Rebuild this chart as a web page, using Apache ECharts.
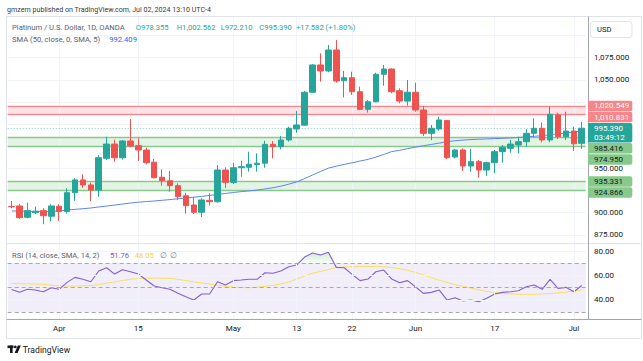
<!DOCTYPE html>
<html><head><meta charset="utf-8">
<script src="https://cdn.jsdelivr.net/npm/echarts@6/dist/echarts.min.js"></script>
<style>html,body{margin:0;padding:0;background:#fff}#c{width:643px;height:361px}</style>
</head><body><div id="c"></div>
<script>
// ---------- DATA ----------
const dates = ['2024-03-21','2024-03-22','2024-03-25','2024-03-26','2024-03-27','2024-03-28',
'2024-04-01','2024-04-02','2024-04-03','2024-04-04','2024-04-05','2024-04-08','2024-04-09','2024-04-10','2024-04-11','2024-04-12','2024-04-15','2024-04-16','2024-04-17','2024-04-18','2024-04-19','2024-04-22','2024-04-23','2024-04-24','2024-04-25','2024-04-26','2024-04-29','2024-04-30',
'2024-05-01','2024-05-02','2024-05-03','2024-05-06','2024-05-07','2024-05-08','2024-05-09','2024-05-10','2024-05-13','2024-05-14','2024-05-15','2024-05-16','2024-05-17','2024-05-20','2024-05-21','2024-05-22','2024-05-23','2024-05-24','2024-05-27','2024-05-28','2024-05-29','2024-05-30','2024-05-31',
'2024-06-03','2024-06-04','2024-06-05','2024-06-06','2024-06-07','2024-06-10','2024-06-11','2024-06-12','2024-06-13','2024-06-14','2024-06-17','2024-06-18','2024-06-19','2024-06-20','2024-06-21','2024-06-24','2024-06-25','2024-06-26','2024-06-27','2024-06-28',
'2024-07-01','2024-07-02'];

const opens = [907.0,907.6,894.8,900.0,902.3,896.0,
907.3,901.3,922.6,937.0,931.3,925.6,961.4,977.5,962.1,981.0,975.7,970.8,957.0,940.0,936.1,930.5,919.2,908.7,900.5,914.0,912.4,948.2,
934.3,950.8,951.3,954.2,955.9,977.2,974.5,982.1,994.5,998.8,1036.0,1066.8,1060.0,1083.7,1049.0,1052.4,1036.6,1016.7,1025.3,1056.3,1062.2,1037.7,1026.0,
1036.0,1016.0,989.6,994.5,1004.0,962.9,970.8,952.7,957.6,948.2,956.5,968.9,972.7,976.4,980.2,989.6,995.3,982.1,1010.3,985.8,
992.2,978.355];

const highs = [913.2,910.0,911.3,906.8,905.0,909.5,
909.5,927.5,939.0,943.4,934.0,965.0,985.8,982.5,982.0,1005.8,984.0,973.4,960.7,949.0,947.0,933.2,922.6,918.0,916.3,922.0,953.9,951.3,
956.4,958.7,968.9,967.0,981.3,981.0,986.6,997.0,1015.0,1037.4,1067.9,1080.0,1089.3,1095.0,1060.0,1059.2,1042.3,1027.2,1058.0,1066.8,1063.0,1040.4,1049.8,
1046.8,1020.5,999.0,1008.4,1004.7,972.0,972.7,972.0,959.5,957.6,970.8,976.4,982.1,985.8,994.2,1006.6,1002.0,1019.7,1012.9,1014.0,
997.0,1002.562];

const lows = [905.0,893.0,893.7,898.5,887.0,890.0,
890.8,899.0,913.5,928.0,913.0,918.0,959.5,957.6,960.0,973.9,958.4,954.6,938.8,930.5,923.7,914.4,899.0,898.5,895.0,908.0,911.3,928.0,
932.4,940.6,946.3,946.3,950.8,961.4,971.6,980.2,990.3,998.5,1035.5,1048.0,1058.5,1046.8,1030.3,1033.0,1016.0,1013.0,1024.6,1043.4,1034.8,1023.5,1020.8,
1014.0,986.6,982.0,992.6,960.7,961.4,947.0,946.3,939.5,941.5,944.6,956.5,967.8,967.0,974.5,985.0,979.5,979.5,983.2,982.1,
969.7,972.21];

const closes = [906.6,894.4,902.3,901.6,896.6,907.6,
901.3,922.6,937.0,931.3,925.6,962.1,977.5,962.1,981.0,975.3,970.8,956.5,939.5,936.1,930.5,918.1,907.9,900.5,914.4,912.4,948.2,934.3,
950.8,952.0,954.7,955.9,977.2,974.5,982.1,995.3,999.0,1036.0,1066.8,1060.0,1083.7,1048.7,1052.4,1036.6,1016.7,1025.3,1056.3,1062.2,1036.6,1026.0,1036.0,
1016.0,989.6,995.3,1004.7,962.1,970.8,952.7,957.6,948.2,956.5,968.9,973.9,977.5,980.2,989.6,995.3,982.1,1011.0,985.8,992.2,
977.808,995.39];

const sma50 = [902.0,901.8,901.6,901.5,901.5,901.6,
902.0,903.0,903.8,904.5,905.3,906.5,907.5,908.6,909.8,910.9,911.8,912.6,913.2,914.0,914.8,915.7,916.5,917.5,918.4,919.5,920.6,921.8,
922.8,923.8,924.6,925.6,926.8,928.2,930.0,932.2,934.8,938.5,942.5,946.5,950.3,952.5,954.5,956.3,958.3,960.2,962.8,965.8,969.0,970.5,972.3,
974.0,975.6,977.0,978.6,980.2,981.2,982.0,982.6,983.0,983.3,983.6,984.0,984.4,985.0,985.6,986.3,987.0,988.0,989.0,990.0,
991.0,992.409];

const rsi14 = [48.5,46.1,48.6,48.0,46.6,49.9,
48.6,54.3,58.4,56.8,54.8,63.6,66.3,61.1,64.7,63.0,61.1,56.2,51.3,49.9,48.6,45.3,42.5,39.8,44.8,44.8,54.8,52.1,
55.7,56.2,56.8,56.8,62.2,61.7,63.6,67.1,68.5,75.0,78.4,76.7,78.9,66.6,66.3,60.9,55.7,57.0,63.0,64.4,57.0,54.0,55.7,
50.7,45.3,46.1,48.0,39.8,41.7,39.0,39.8,38.4,41.2,44.8,46.1,46.6,47.4,50.7,52.1,48.6,56.8,49.4,50.2,
46.6,51.76];

const rsiSma = [53.4,53.2,53.0,52.9,52.7,52.0,
51.3,51.3,51.3,51.4,51.6,52.5,53.6,54.6,55.8,56.8,57.5,57.7,57.8,57.7,57.5,56.8,55.8,54.8,53.8,52.9,52.0,51.1,
50.4,50.1,49.9,50.3,51.0,51.8,53.0,54.5,57.0,59.5,61.8,63.2,64.8,66.5,66.9,67.1,67.2,67.2,67.2,67.1,66.5,65.5,64.2,
62.5,60.5,58.2,56.0,54.2,52.5,51.0,49.6,48.2,46.8,46.0,45.3,44.8,44.5,44.5,44.5,44.8,45.2,45.7,46.3,
47.2,48.05];

const priceGridLevels = [875, 900, 925, 950, 975, 1000, 1025, 1050, 1075, 1100];
const priceTickLabels = [875, 900, 950, 1050, 1075];
const rsiTickLabels = [40, 60, 80];
const rsiGridLevels = [40, 60, 80];
const rsiBandLevels = [30, 50, 70];
const xLabelDates = ['2024-04-01','2024-04-15','2024-05-01','2024-05-13','2024-05-22','2024-06-03','2024-06-17','2024-07-01'];
const xLabelTexts = ['Apr','15','May','13','22','Jun','17','Jul'];

const redZone = [1010.831, 1020.549];
const greenZoneA = [974.950, 985.416];
const greenZoneB = [924.866, 935.331];
const countdown = '03:49:12';

// ---------- CHART ----------
const FONT = 'Roboto';
const UP = '#26a69a', DOWN = '#ef5350';
const PRICE_MIN = 865.79, PRICE_MAX = 1120.95;
const RSI_MIN = 24.26, RSI_MAX = 85.74;
const fmtPrice = v => Number(v).toLocaleString('en-US', {minimumFractionDigits: 3, maximumFractionDigits: 3});

const chart = echarts.init(document.getElementById('c'), null, {renderer: 'svg', width: 643, height: 361});

const gridLineStyle = {color: '#f0f3fa', width: 1, type: 'solid'};
const vLines = xLabelDates.map(d => ({xAxis: d, lineStyle: gridLineStyle}));
const hLines = priceGridLevels.map(v => ({yAxis: v, lineStyle: gridLineStyle}));
const zoneLine = (v, c) => ({yAxis: v, lineStyle: {color: c, width: 1.3, type: 'solid'}});
const lastClose = closes[closes.length - 1];

const option = {
  animation: false,
  backgroundColor: '#ffffff',
  textStyle: {fontFamily: FONT},
  grid: [
    {left: 7.7, right: 57.3, top: 17, height: 226},
    {left: 7.7, right: 57.3, top: 244, height: 75}
  ],
  xAxis: [
    {type: 'category', data: dates, gridIndex: 0, boundaryGap: true,
     axisLine: {show: false}, axisTick: {show: false}, axisLabel: {show: false}, splitLine: {show: false}},
    {type: 'category', data: dates, gridIndex: 1, boundaryGap: true,
     axisLine: {show: false}, axisTick: {show: false}, splitLine: {show: false},
     axisLabel: {show: true, margin: 5, fontSize: 8, color: '#131722', fontFamily: FONT,
       interval: (i, v) => xLabelDates.indexOf(v) >= 0,
       formatter: v => { const k = xLabelDates.indexOf(v); return k >= 0 ? xLabelTexts[k] : ''; }}}
  ],
  yAxis: [
    {type: 'value', gridIndex: 0, position: 'right', min: PRICE_MIN, max: PRICE_MAX, offset: 2.3,
     axisLine: {show: false}, axisTick: {show: false}, splitLine: {show: false},
     axisLabel: {customValues: priceTickLabels, formatter: fmtPrice, fontSize: 8, color: '#131722', margin: 6, fontFamily: FONT}},
    {type: 'value', gridIndex: 1, position: 'right', min: RSI_MIN, max: RSI_MAX, offset: 2.3,
     axisLine: {show: false}, axisTick: {show: false}, splitLine: {show: false},
     axisLabel: {customValues: rsiTickLabels, formatter: v => Number(v).toFixed(2), fontSize: 8, color: '#131722', margin: 6, fontFamily: FONT}}
  ],
  series: [
    { // price-pane background: grid lines, zones, price line
      type: 'line', xAxisIndex: 0, yAxisIndex: 0, data: dates.map(() => null), z: 0, silent: true, symbol: 'none',
      markArea: {silent: true, z: 0, data: [
        [{yAxis: redZone[0], itemStyle: {color: 'rgba(242,54,69,0.14)'}}, {yAxis: redZone[1]}],
        [{yAxis: greenZoneA[0], itemStyle: {color: 'rgba(76,175,80,0.15)'}}, {yAxis: greenZoneA[1]}],
        [{yAxis: greenZoneB[0], itemStyle: {color: 'rgba(76,175,80,0.15)'}}, {yAxis: greenZoneB[1]}]
      ]},
      markLine: {silent: true, symbol: 'none', label: {show: false}, z: 1, data: [
        ...hLines, ...vLines,
        zoneLine(redZone[0], '#f28b90'), zoneLine(redZone[1], '#f28b90'),
        zoneLine(greenZoneA[0], '#86c98a'), zoneLine(greenZoneA[1], '#86c98a'),
        zoneLine(greenZoneB[0], '#86c98a'), zoneLine(greenZoneB[1], '#86c98a'),
        {yAxis: lastClose, lineStyle: {color: 'rgba(38,166,154,0.55)', width: 1, type: [1, 2]}}
      ]}
    },
    {
      name: 'SMA', type: 'line', xAxisIndex: 0, yAxisIndex: 0, data: sma50, z: 2,
      symbol: 'none', lineStyle: {color: '#5b86f5', width: 1}, silent: true
    },
    {
      name: 'Platinum', type: 'candlestick', xAxisIndex: 0, yAxisIndex: 0, z: 3, barWidth: '76%',
      data: dates.map((d, i) => [opens[i], closes[i], lows[i], highs[i]]),
      itemStyle: {color: UP, color0: DOWN, borderColor: UP, borderColor0: DOWN, borderWidth: 1}
    },
    { // RSI background
      type: 'line', xAxisIndex: 1, yAxisIndex: 1, data: dates.map(() => null), z: 0, silent: true, symbol: 'none',
      markArea: {silent: true, data: [[{yAxis: rsiBandLevels[0], itemStyle: {color: 'rgba(126,87,194,0.10)'}}, {yAxis: rsiBandLevels[2]}]]},
      markLine: {silent: true, symbol: 'none', label: {show: false}, data: [
        ...rsiGridLevels.map(v => ({yAxis: v, lineStyle: gridLineStyle})),
        ...xLabelDates.map(d => ({xAxis: d, lineStyle: gridLineStyle})),
        ...rsiBandLevels.map(v => ({yAxis: v, lineStyle: {color: '#a5a8b0', width: 1, type: [4, 3]}}))
      ]}
    },
    { // overbought fill base
      type: 'line', xAxisIndex: 1, yAxisIndex: 1, stack: 'ob', z: 1, silent: true, symbol: 'none',
      data: rsi14.map(() => rsiBandLevels[2]), lineStyle: {opacity: 0}
    },
    {
      type: 'line', xAxisIndex: 1, yAxisIndex: 1, stack: 'ob', z: 1, silent: true, symbol: 'none',
      data: rsi14.map(v => Math.max(v, rsiBandLevels[2]) - rsiBandLevels[2]), lineStyle: {opacity: 0},
      areaStyle: {color: new echarts.graphic.LinearGradient(0, 0, 0, 1, [
        {offset: 0, color: 'rgba(76,175,80,0.35)'}, {offset: 1, color: 'rgba(76,175,80,0.05)'}])}
    },
    {
      name: 'RSI SMA', type: 'line', xAxisIndex: 1, yAxisIndex: 1, data: rsiSma, z: 2, symbol: 'none',
      lineStyle: {color: '#f6e05e', width: 1}, silent: true
    },
    {
      name: 'RSI', type: 'line', xAxisIndex: 1, yAxisIndex: 1, data: rsi14, z: 3, symbol: 'none',
      lineStyle: {color: '#8460cc', width: 1.1}, silent: true
    }
  ]
};
chart.setOption(option);

// ---------- OVERLAY TEXT / LABELS ----------
const g = [];
const ln = (x1, y1, x2, y2, c) => ({type: 'line', silent: true, z: 40, shape: {x1, y1, x2, y2}, style: {stroke: c, lineWidth: 1}});
const tx = (t, x, y, fill, size, extra) => Object.assign({type: 'text', silent: true, z: 60, x, y,
  style: Object.assign({text: t, fill, fontSize: size || 8, fontFamily: FONT, verticalAlign: 'middle', align: 'left'}, extra || {})});

// frame and pane separators
g.push(ln(6.5, 16.5, 641.5, 16.5, '#e0e3eb'));
g.push(ln(6.5, 16.5, 6.5, 338.5, '#e0e3eb'));
g.push(ln(6.5, 338.5, 641.5, 338.5, '#e0e3eb'));
g.push(ln(641.5, 16.5, 641.5, 338.5, '#e0e3eb'));
g.push(ln(6.5, 243.5, 641.5, 243.5, '#e0e3eb'));
g.push(ln(588.5, 16.5, 588.5, 319.5, '#a3a6af'));
g.push(ln(6.5, 319.5, 641.5, 319.5, '#a3a6af'));

// header
const last = closes.length - 1;
const chg = closes[last] - closes[last - 1];
const chgPct = chg / closes[last - 1] * 100;
g.push(tx('gmzern published on TradingView.com, Jul 02, 2024 13:10 UTC-4', 7, 9.5, '#3a3a3a', 7.1));
g.push(tx('Platinum / U.S. Dollar, 1D, OANDA', 12, 27, '#5d606b', 7.6));
const hc = closes[last] >= opens[last] ? '#22ab94' : DOWN;
g.push(tx('O' + fmtPrice(opens[last]), 135.7, 27, hc, 7.6));
g.push(tx('H' + fmtPrice(highs[last]), 176.7, 27, hc, 7.6));
g.push(tx('L' + fmtPrice(lows[last]), 220.7, 27, hc, 7.6));
g.push(tx('C' + fmtPrice(closes[last]), 259.3, 27, hc, 7.6));
g.push(tx((chg >= 0 ? '+' : '') + chg.toFixed(3) + ' (' + (chg >= 0 ? '+' : '') + chgPct.toFixed(2) + '%)', 296, 27, hc, 7.6));
g.push(tx('SMA (50, close, 0, SMA, 5)', 12, 39, '#5d606b', 7.6));
g.push(tx(sma50[last].toFixed(3), 109.3, 39, '#2962ff', 7.6));

// RSI header
g.push(tx('RSI (14, close, SMA, 14, 2)', 12, 255, '#5d606b', 7.6));
g.push(tx(rsi14[last].toFixed(2), 110, 255, '#7e57c2', 7.6));
g.push(tx(rsiSma[last].toFixed(2), 134.7, 255, '#f2d33d', 7.6));
g.push(tx('\u2205', 159.5, 255, '#787b86', 7.6));
g.push(tx('\u2205', 169.5, 255, '#787b86', 7.6));

// USD box
g.push({type: 'rect', silent: true, z: 55, shape: {x: 590.5, y: 21.5, width: 41.5, height: 16, r: 3}, style: {fill: '#fff', stroke: '#e0e3eb', lineWidth: 1}});
g.push(tx('USD', 597, 29.5, '#131722', 7.6));

// axis price labels for zones and last price (stacked to avoid overlap)
const yPx = v => chart.convertToPixel({gridIndex: 0}, [0, v])[1];
const boxH = 10.5, gap = 0.6;
const curTop = yPx(lastClose) - 5.2;
const boxes = [
  {v: redZone[1], bg: '#f7868a', fg: '#ffffff'},
  {v: redZone[0], bg: '#f7868a', fg: '#ffffff'},
  {v: greenZoneA[1], bg: '#86c98a', fg: '#131722'},
  {v: greenZoneA[0], bg: '#86c98a', fg: '#131722'},
  {v: greenZoneB[1], bg: '#86c98a', fg: '#131722'},
  {v: greenZoneB[0], bg: '#86c98a', fg: '#131722'}
].map(b => Object.assign(b, {top: yPx(b.v) - boxH / 2, h: boxH}));
const cur = {cur: true, top: curTop, h: 19.5};
const all = boxes.concat([cur]).sort((a, b) => (a.top + a.h / 2) - (b.top + b.h / 2));
// first pass: spread overlapping red pair symmetrically, then push others down
let prevBottom = -1e9;
all.forEach(b => {
  if (!b.cur && b.top < prevBottom + gap) b.top = prevBottom + gap;
  prevBottom = b.top + b.h;
});
boxes.forEach(b => {
  g.push({type: 'rect', silent: true, z: 55, shape: {x: 588, y: b.top, width: 44.3, height: b.h, r: [0, 2, 2, 0]}, style: {fill: b.bg}});
  g.push(tx(fmtPrice(b.v), 594, b.top + b.h / 2, b.fg, 8));
});
g.push({type: 'rect', silent: true, z: 55, shape: {x: 588, y: cur.top, width: 44.3, height: cur.h, r: [0, 2, 2, 0]}, style: {fill: UP}});
g.push(tx(fmtPrice(lastClose), 594, cur.top + 5.2, '#ffffff', 8));
g.push(tx(countdown, 594, cur.top + 14, '#ffffff', 8));

// TradingView logo
g.push({type: 'rect', silent: true, z: 60, shape: {x: 7.5, y: 345.5, width: 6, height: 2.6}, style: {fill: '#131722'}});
g.push({type: 'rect', silent: true, z: 60, shape: {x: 10, y: 345.5, width: 2.6, height: 7.5}, style: {fill: '#131722'}});
g.push({type: 'circle', silent: true, z: 60, shape: {cx: 15.3, cy: 346.9, r: 1.4}, style: {fill: '#131722'}});
g.push({type: 'polygon', silent: true, z: 60, shape: {points: [[14.6, 353], [17.8, 345.5], [20.8, 345.5], [17.6, 353]]}, style: {fill: '#131722'}});
g.push(tx('TradingView', 22.8, 349.5, '#131722', 8.6));

chart.setOption({graphic: {elements: g}});
</script>
</body></html>
